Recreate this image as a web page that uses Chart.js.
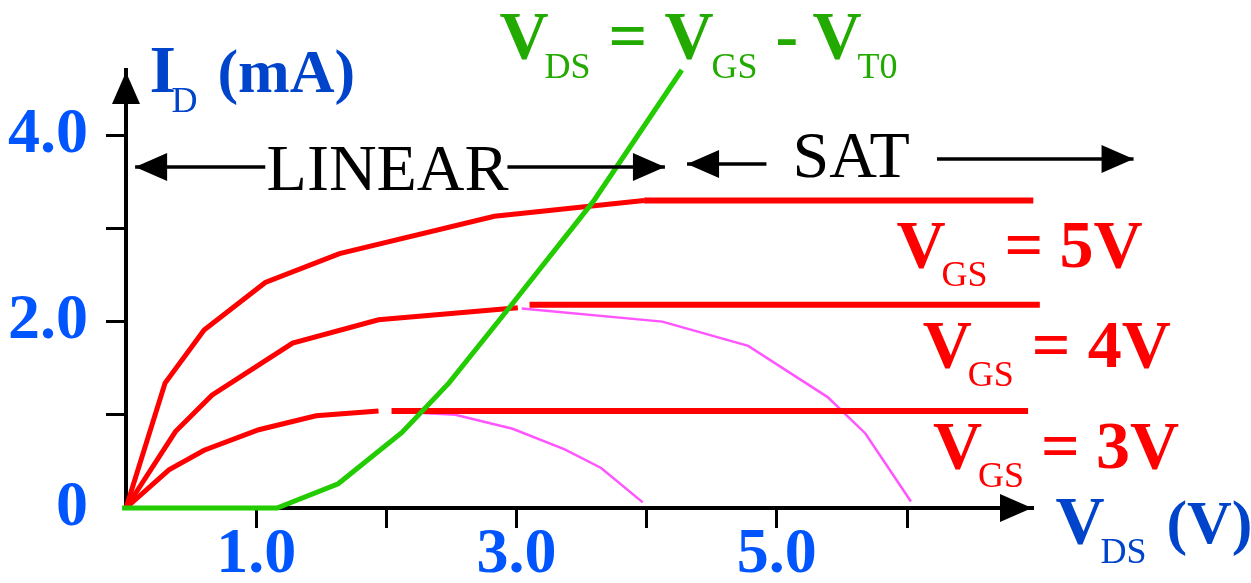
<!DOCTYPE html>
<html>
<head>
<meta charset="utf-8">
<script src="https://cdn.jsdelivr.net/npm/chart.js@4"></script>
<style>
  html, body { margin: 0; padding: 0; background: #fff; }
  canvas { display: block; }
</style>
</head>
<body>
<canvas id="idvd" width="1251" height="583"></canvas>
<script>
// drain characteristics: V_DS in volts, I_D in mA
const vgs5X = [0, 0.30, 0.60, 1.07, 1.64, 2.83, 3.98];
const vgs5Y = [0, 1.34, 1.91, 2.42, 2.73, 3.13, 3.30];
const vgs5SatX = [3.98, 6.97];
const vgs5SatY = [3.30, 3.30];

const vgs4X = [0, 0.38, 0.66, 1.28, 1.94, 3.01];
const vgs4Y = [0, 0.82, 1.21, 1.77, 2.02, 2.15];
const vgs4SatX = [3.10, 7.02];
const vgs4SatY = [2.18, 2.18];
const vgs4DropX = [3.04, 4.12, 4.78, 5.39, 5.68, 6.03];
const vgs4DropY = [2.14, 2.00, 1.74, 1.19, 0.80, 0.07];

const vgs3X = [0, 0.33, 0.60, 1.02, 1.46, 1.94];
const vgs3Y = [0, 0.41, 0.62, 0.84, 0.99, 1.04];
const vgs3SatX = [2.04, 6.93];
const vgs3SatY = [1.04, 1.04];
const vgs3DropX = [2.28, 2.53, 2.97, 3.37, 3.65, 3.97];
const vgs3DropY = [1.02, 1.00, 0.85, 0.63, 0.43, 0.06];

// boundary V_DS = V_GS - V_T0
const edgeX = [-0.03, 1.16, 1.63, 2.12, 2.48, 2.95, 3.59, 4.27];
const edgeY = [0, 0, 0.26, 0.81, 1.34, 2.16, 3.29, 4.70];

const xTickValues = [1, 2, 3, 4, 5, 6];
const xTickLabels = ['1.0', '', '3.0', '', '5.0', ''];
const yTickValues = [0, 1, 2, 3, 4];
const yTickLabels = ['0', '', '2.0', '', '4.0'];

const SERIF = '"Liberation Serif", "Times New Roman", serif';
const RED = '#ff0000';

const line = (xs, ys, color, width) => ({
  data: xs.map((x, i) => ({ x, y: ys[i] })),
  showLine: true,
  borderColor: color,
  borderWidth: width,
  pointRadius: 0,
  pointHoverRadius: 0,
  tension: 0,
  fill: false,
  clip: false
});

// text with subscripts: [text, kind, dx, dy], anchored at a data point
// kind: b = big bold, s = subscript, p = bracketed unit
const richLabels = [
  { x: 5.92, y: 2.59, color: RED, parts: [['V', 'b', 0, 0], ['GS', 's', 45, 19], ['=', 'b', 108, 0], ['5V', 'b', 163, 0]] },
  { x: 6.12, y: 1.51, color: RED, parts: [['V', 'b', 0, 0], ['GS', 's', 45, 19], ['=', 'b', 109, 0], ['4V', 'b', 165, 0]] },
  { x: 6.20, y: 0.43, color: RED, parts: [['V', 'b', 0, 0], ['GS', 's', 45, 19], ['=', 'b', 108, 0], ['3V', 'b', 163, 0]] },
  { x: 2.87, y: 4.83, color: '#22aa00', parts: [['V', 'b', 0, 0], ['DS', 's', 45, 20], ['=', 'b', 109, 0], ['V', 'b', 165, 0],
      ['GS', 's', 212, 20], ['-', 'b', 276, 0], ['V', 'b', 313, 0], ['T0', 's', 358, 20]] },
  { x: 0.18, y: 4.46, color: '#0044cc', parts: [['I', 'b', 0, 0], ['D', 's', 22, 20], ['(mA)', 'p', 68, 0]] },
  { x: 7.14, y: -0.375, color: '#0044cc', parts: [['V', 'b', 0, 0], ['DS', 's', 45, 20], ['(V)', 'p', 111, 0]] }
];

const fonts = { b: 'bold 68px ' + SERIF, s: '36px ' + SERIF, p: 'bold 62px ' + SERIF };

function head(ctx, tipX, tipY, dir) {
  const len = 32, half = 14;
  ctx.beginPath();
  ctx.moveTo(tipX, tipY);
  if (dir === 'up') {
    ctx.lineTo(tipX - half, tipY + len);
    ctx.lineTo(tipX + half, tipY + len);
  } else {
    const s = dir === 'right' ? -1 : 1;
    ctx.lineTo(tipX + s * len, tipY - half);
    ctx.lineTo(tipX + s * len, tipY + half);
  }
  ctx.closePath();
  ctx.fill();
}

function arrow(ctx, x1, x2, y, dir) {
  ctx.beginPath();
  ctx.moveTo(x1, y);
  ctx.lineTo(x2, y);
  ctx.stroke();
  head(ctx, dir === 'left' ? x1 : x2, y, dir);
}

const annotations = {
  id: 'annotations',
  afterDraw(chart) {
    const { ctx, scales: { x, y } } = chart;
    ctx.save();
    ctx.fillStyle = '#000';
    ctx.strokeStyle = '#000';
    ctx.lineWidth = 4;

    // axis arrow heads
    head(ctx, x.right, y.getPixelForValue(0), 'right');
    head(ctx, x.getPixelForValue(0), y.top + 2, 'up');

    // region arrows
    ctx.lineWidth = 3.5;
    const yLin = y.getPixelForValue(3.66);
    arrow(ctx, x.getPixelForValue(0.07), x.getPixelForValue(1.07), yLin, 'left');
    arrow(ctx, x.getPixelForValue(2.93), x.getPixelForValue(4.14), yLin, 'right');
    arrow(ctx, x.getPixelForValue(4.31), x.getPixelForValue(4.92), y.getPixelForValue(3.69), 'left');
    arrow(ctx, x.getPixelForValue(6.23), x.getPixelForValue(7.74), y.getPixelForValue(3.745), 'right');

    ctx.textAlign = 'left';
    ctx.textBaseline = 'alphabetic';
    ctx.font = '66px ' + SERIF;
    ctx.fillText('LINEAR', x.getPixelForValue(1.08), y.getPixelForValue(3.41));
    ctx.fillText('SAT', x.getPixelForValue(5.12), y.getPixelForValue(3.55));

    richLabels.forEach(lbl => {
      const px = x.getPixelForValue(lbl.x);
      const py = y.getPixelForValue(lbl.y);
      ctx.fillStyle = lbl.color;
      lbl.parts.forEach(([text, kind, dx, dy]) => {
        ctx.font = fonts[kind];
        ctx.fillText(text, px + dx, py + dy);
      });
    });
    ctx.restore();
  }
};

new Chart(document.getElementById('idvd'), {
  type: 'scatter',
  data: {
    datasets: [
      line(edgeX, edgeY, '#22cc00', 5),
      line(vgs5X, vgs5Y, RED, 5),
      line(vgs5SatX, vgs5SatY, RED, 6),
      line(vgs4X, vgs4Y, RED, 5),
      line(vgs4SatX, vgs4SatY, RED, 6),
      line(vgs3X, vgs3Y, RED, 5),
      line(vgs3SatX, vgs3SatY, RED, 6),
      line(vgs4DropX, vgs4DropY, '#ff55ff', 2.5),
      line(vgs3DropX, vgs3DropY, '#ff55ff', 2.5)
    ]
  },
  options: {
    responsive: false,
    animation: false,
    devicePixelRatio: 1,
    events: [],
    layout: { padding: { left: 0, right: 219, top: 70, bottom: 0 } },
    plugins: { legend: { display: false }, tooltip: { enabled: false } },
    scales: {
      x: {
        type: 'linear',
        min: 0,
        max: 6.96,
        afterBuildTicks: s => { s.ticks = xTickValues.map(value => ({ value })); },
        afterFit: s => { s.height = 75; },
        border: { display: true, color: '#000', width: 4 },
        grid: { drawOnChartArea: false, drawTicks: true, tickLength: 20, color: '#000', lineWidth: 3 },
        ticks: {
          autoSkip: false,
          maxRotation: 0,
          padding: -11,
          color: '#0055ff',
          font: { family: SERIF, size: 64, weight: 'bold' },
          callback: (v, i) => xTickLabels[i]
        }
      },
      y: {
        type: 'linear',
        min: 0,
        max: 4.7,
        afterBuildTicks: s => { s.ticks = yTickValues.map(value => ({ value })); },
        afterFit: s => { s.width = 126; },
        border: { display: true, color: '#000', width: 4 },
        grid: {
          drawOnChartArea: false, drawTicks: true, tickLength: 20, lineWidth: 3, color: '#000',
          tickColor: c => (c.tick && c.tick.value === 0 ? 'rgba(0,0,0,0)' : '#000')
        },
        ticks: {
          autoSkip: false,
          padding: 18,
          color: '#0055ff',
          font: { family: SERIF, size: 64, weight: 'bold' },
          callback: (v, i) => yTickLabels[i]
        }
      }
    }
  },
  plugins: [annotations]
});
</script>
</body>
</html>
